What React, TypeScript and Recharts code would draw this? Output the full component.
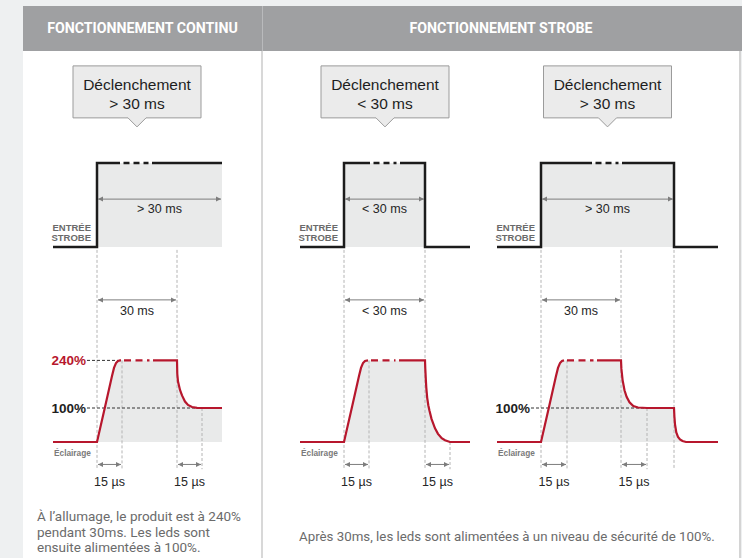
import React from "react";
import {
  ComposedChart,
  Line,
  Area,
  XAxis,
  YAxis,
  ReferenceLine,
  ReferenceDot,
} from "recharts";

// time is in schematic units: 30 ms = 80, 15 µs = 25, pulse starts at 0
// strobe input: 0 = low, 1 = high
const STROBE_CONTINU: [number, number][] = [[-44, 0], [0, 0], [0, 1], [125, 1]];
const STROBE_SHORT: [number, number][] = [[-44, 0], [0, 0], [0, 1], [81, 1], [81, 0], [126, 0]];
const STROBE_LONG: [number, number][] = [[-44, 0], [0, 0], [0, 1], [133, 1], [133, 0], [177, 0]];

// lighting level in %
const LIGHT_CONTINU: [number, number][] = [
  [-44, 0], [0, 0], [8, 103], [15, 194], [17, 218], [19, 232], [21, 238.5], [23, 240],
  [80, 240], [80.3, 200], [81, 178], [83, 153], [85, 137], [88, 119], [91, 109], [95, 103],
  [100, 100.5], [105, 100], [125, 100],
];
const LIGHT_SHORT: [number, number][] = [
  [-44, 0], [0, 0], [8, 103], [15, 194], [17, 218], [19, 232], [21, 238.5], [24, 240],
  [81, 240], [81.3, 215], [81.8, 185], [82.3, 160], [83.2, 130], [84.3, 108], [85.5, 92],
  [87.5, 68], [91, 40], [94, 24], [97.7, 11], [101, 5], [106, 0], [126, 0],
];
const LIGHT_LONG: [number, number][] = [
  [-44, 0], [0, 0], [8, 103], [15, 194], [17, 218], [19, 232], [21, 238.5], [23, 240],
  [80, 240], [80.4, 215], [81.6, 182], [83.5, 152], [85.6, 133], [88.5, 117], [92.3, 106],
  [97, 101.5], [106, 100], [133, 100], [133.4, 75], [134, 52], [135.3, 28], [137, 15],
  [139, 7.5], [141.5, 3], [145, 0], [177, 0],
];

const HEADERS = ["FONCTIONNEMENT CONTINU", "FONCTIONNEMENT STROBE"];
const CAPTION_CONTINU = [
  "À l’allumage, le produit est à 240%",
  "pendant 30ms. Les leds sont",
  "ensuite alimentées à 100%.",
];
const CAPTION_STROBE = "Après 30ms, les leds sont alimentées à un niveau de sécurité de 100%.";

const FONT = '"Liberation Sans", Arial, sans-serif';
const RED = "#b7172d";
const FILL = "#e9eaea";
const GUIDE = "#b4b4b4";
const ARROW = "#7d7d7d";

const X_MIN = -50;
const CHART_TOP = 56;
const CHART_H = 444;
// pixel of value 0 inside the chart and pixels per unit
const domainFor = (zeroPx: number, k: number): [number, number] => [
  -(CHART_H - zeroPx) / k,
  zeroPx / k,
];
const STROBE_DOMAIN = domainFor(191, 84);
const LIGHT_DOMAIN = domainFor(386, 0.34);

const CALLOUT_Y = 1.43;
const PULSE_ARROW_Y = 0.57;
const STROBE_LABEL_Y = 0.17;
const LIGHT_ARROW_Y = 418;
const GUIDE_TOP = 565;
const GUIDE_BOTTOM = -80;
const ECL_Y = -31.5;
const US_ARROW_Y = -66;

const toPts = (a: [number, number][]) => a.map(([t, v]) => ({ t, v }));

function withGap(a: [number, number][], from: number, to: number, level: number) {
  const out: { t: number; v: number | null }[] = [];
  let done = false;
  for (const [t, v] of a) {
    if (!done && t > from) {
      out.push({ t: from, v: level }, { t: (from + to) / 2, v: null }, { t: to, v: level });
      done = true;
    }
    if (t > from && t < to) continue;
    out.push({ t, v });
  }
  return out;
}

const arrowShape = (label: string, dy: number) => (p: any) => {
  const xa = Math.min(p.x1, p.x2) + 1;
  const xb = Math.max(p.x1, p.x2) - 1;
  const y = p.y1;
  return (
    <g>
      <line x1={xa} y1={y} x2={xb} y2={y} stroke={ARROW} strokeWidth={1} />
      <path d={`M${xa},${y} l5,-2.5 v5 z`} fill={ARROW} />
      <path d={`M${xb},${y} l-5,-2.5 v5 z`} fill={ARROW} />
      <text
        x={(xa + xb) / 2}
        y={y + dy}
        textAnchor="middle"
        dominantBaseline="central"
        fontFamily={FONT}
        fontSize={12.5}
        fill="#262626"
      >
        {label}
      </text>
    </g>
  );
};

const calloutShape = (lines: string[]) => (p: any) => {
  const { cx, cy } = p;
  const x0 = cx - 64;
  const x1 = cx + 64;
  const top = cy - 61;
  const bot = cy - 9;
  return (
    <g>
      <path
        d={`M${x0},${top} H${x1} V${bot} H${cx + 9} L${cx},${cy} L${cx - 9},${bot} H${x0} Z`}
        fill="#ebebeb"
        stroke="#9b9b9b"
        strokeWidth={1}
      />
      {lines.map((l, i) => (
        <text
          key={i}
          x={cx}
          y={cy - 42 + i * 18.5}
          textAnchor="middle"
          dominantBaseline="central"
          fontFamily={FONT}
          fontSize={15.5}
          fill="#1e1e1e"
        >
          {l}
        </text>
      ))}
    </g>
  );
};

const strobeLabelShape = (p: any) => (
  <text
    x={p.cx}
    y={p.cy}
    textAnchor="end"
    fontFamily={FONT}
    fontSize={9.5}
    fontWeight="bold"
    fill="#6a6a6a"
  >
    <tspan x={p.cx} dy={-1.5}>ENTRÉE</tspan>
    <tspan x={p.cx} dy={10}>STROBE</tspan>
  </text>
);

const eclShape = (p: any) => (
  <text
    x={p.cx}
    y={p.cy}
    dominantBaseline="central"
    fontFamily={FONT}
    fontSize={8.3}
    fontWeight="bold"
    fill="#7a7a7a"
  >
    Éclairage
  </text>
);

const levelShape = (label: string, color: string) => (p: any) => (
  <g>
    <line x1={p.x1} y1={p.y1} x2={p.x2} y2={p.y2} stroke="#333" strokeWidth={1} strokeDasharray="3 2" />
    <text
      x={Math.min(p.x1, p.x2) - 1}
      y={p.y1}
      textAnchor="end"
      dominantBaseline="central"
      fontFamily={FONT}
      fontSize={13.5}
      fontWeight="bold"
      fill={color}
    >
      {label}
    </text>
  </g>
);

type Panel = {
  left: number;
  xMax: number;
  strobe: [number, number][];
  strobeGap: [number, number];
  light: [number, number][];
  lightGap: [number, number];
  callout: number;
  calloutText: string[];
  pulse: [number, number, string];
  lightArrow: [number, number, string];
  usArrows: [number, number][];
  guides: [number, number][];
  levels: { level: number; to: number; label: string; color: string }[];
};

const PANELS: Panel[] = [
  {
    left: 47,
    xMax: 130,
    strobe: STROBE_CONTINU,
    strobeGap: [23, 55],
    light: LIGHT_CONTINU,
    lightGap: [24, 56],
    callout: 40,
    calloutText: ["Déclenchement", "> 30 ms"],
    pulse: [0, 125, "> 30 ms"],
    lightArrow: [0, 80, "30 ms"],
    usArrows: [[0, 25], [80, 105]],
    guides: [[0, GUIDE_TOP], [80, GUIDE_TOP], [25, 240], [105, 100]],
    levels: [
      { level: 240, to: 21, label: "240%", color: RED },
      { level: 100, to: 105, label: "100%", color: "#1e1e1e" },
    ],
  },
  {
    left: 294,
    xMax: 130,
    strobe: STROBE_SHORT,
    strobeGap: [26, 56],
    light: LIGHT_SHORT,
    lightGap: [24, 55],
    callout: 41,
    calloutText: ["Déclenchement", "< 30 ms"],
    pulse: [0, 81, "< 30 ms"],
    lightArrow: [0, 81, "< 30 ms"],
    usArrows: [[0, 25], [81, 106]],
    guides: [[0, GUIDE_TOP], [81, GUIDE_TOP], [25, 240], [106, 0]],
    levels: [],
  },
  {
    left: 491,
    xMax: 180,
    strobe: STROBE_LONG,
    strobeGap: [51, 81],
    light: LIGHT_LONG,
    lightGap: [23, 56],
    callout: 66.5,
    calloutText: ["Déclenchement", "> 30 ms"],
    pulse: [0, 133, "> 30 ms"],
    lightArrow: [0, 80, "30 ms"],
    usArrows: [[0, 26], [80, 106]],
    guides: [[0, GUIDE_TOP], [80, GUIDE_TOP], [133, GUIDE_TOP], [26, 240], [106, 100]],
    levels: [{ level: 100, to: 106, label: "100%", color: "#1e1e1e" }],
  },
];

const Diagram = ({ p }: { p: Panel }) => {
  const strobeSolid = withGap(p.strobe, p.strobeGap[0], p.strobeGap[1], 1);
  const strobeDash = [
    { t: p.strobeGap[0] + 3.5, v: 1 },
    { t: p.strobeGap[1] - 3.5, v: 1 },
  ];
  const lightSolid = withGap(p.light, p.lightGap[0], p.lightGap[1], 240);
  const lightDash = [
    { t: p.lightGap[0] + 3, v: 240 },
    { t: p.lightGap[1] - 3.5, v: 240 },
  ];
  return (
    <div style={{ position: "absolute", left: p.left, top: CHART_TOP }}>
      <ComposedChart
        width={p.xMax - X_MIN}
        height={CHART_H}
        margin={{ top: 0, right: 0, bottom: 0, left: 0 }}
      >
        <XAxis type="number" dataKey="t" domain={[X_MIN, p.xMax]} hide allowDataOverflow />
        <YAxis yAxisId="strobe" type="number" domain={STROBE_DOMAIN} hide allowDataOverflow />
        <YAxis yAxisId="light" type="number" domain={LIGHT_DOMAIN} hide allowDataOverflow />

        <Area
          yAxisId="strobe"
          data={toPts(p.strobe)}
          dataKey="v"
          type="linear"
          stroke="none"
          fill={FILL}
          fillOpacity={1}
          baseValue={0}
          isAnimationActive={false}
        />
        <Area
          yAxisId="light"
          data={toPts(p.light)}
          dataKey="v"
          type="linear"
          stroke="none"
          fill={FILL}
          fillOpacity={1}
          baseValue={0}
          isAnimationActive={false}
        />

        {p.guides.map(([t, top], i) => (
          <ReferenceLine
            key={`g${i}`}
            yAxisId="light"
            segment={[{ x: t, y: top }, { x: t, y: GUIDE_BOTTOM }]}
            stroke={GUIDE}
            strokeWidth={1}
            strokeDasharray="3 2"
          />
        ))}
        {p.levels.map((l, i) => (
          <ReferenceLine
            key={`l${i}`}
            yAxisId="light"
            segment={[{ x: -10, y: l.level }, { x: l.to, y: l.level }]}
            shape={levelShape(l.label, l.color)}
          />
        ))}

        <Line yAxisId="strobe" data={strobeSolid} dataKey="v" type="linear" stroke="#1c1c1c"
          strokeWidth={2.5} dot={false} activeDot={false} isAnimationActive={false} />
        <Line yAxisId="strobe" data={strobeDash} dataKey="v" type="linear" stroke="#1c1c1c"
          strokeWidth={2.5} strokeDasharray="6 4" dot={false} activeDot={false} isAnimationActive={false} />
        <Line yAxisId="light" data={lightSolid} dataKey="v" type="linear" stroke={RED}
          strokeWidth={2.2} dot={false} activeDot={false} isAnimationActive={false} />
        <Line yAxisId="light" data={lightDash} dataKey="v" type="linear" stroke={RED}
          strokeWidth={2.2} strokeDasharray="7 4.5" dot={false} activeDot={false} isAnimationActive={false} />

        <ReferenceLine
          yAxisId="strobe"
          segment={[{ x: p.pulse[0], y: PULSE_ARROW_Y }, { x: p.pulse[1], y: PULSE_ARROW_Y }]}
          shape={arrowShape(p.pulse[2], 9.5)}
        />
        <ReferenceLine
          yAxisId="light"
          segment={[{ x: p.lightArrow[0], y: LIGHT_ARROW_Y }, { x: p.lightArrow[1], y: LIGHT_ARROW_Y }]}
          shape={arrowShape(p.lightArrow[2], 11)}
        />
        {p.usArrows.map(([a, b], i) => (
          <ReferenceLine
            key={`u${i}`}
            yAxisId="light"
            segment={[{ x: a, y: US_ARROW_Y }, { x: b, y: US_ARROW_Y }]}
            shape={arrowShape("15 µs", 17.5)}
          />
        ))}

        <ReferenceDot yAxisId="strobe" x={-6} y={STROBE_LABEL_Y} r={0} shape={strobeLabelShape} />
        <ReferenceDot yAxisId="light" x={-43} y={ECL_Y} r={0} shape={eclShape} />
        <ReferenceDot yAxisId="strobe" x={p.callout} y={CALLOUT_Y} r={0} shape={calloutShape(p.calloutText)} />
      </ComposedChart>
    </div>
  );
};

export default function App() {
  const headerText: React.CSSProperties = {
    position: "absolute",
    top: 6,
    height: 45,
    lineHeight: "45px",
    textAlign: "center",
    color: "#ffffff",
    fontFamily: "Roboto, sans-serif",
    fontWeight: 700,
    fontSize: 14.2,
  };
  return (
    <div
      style={{
        position: "absolute",
        left: 0,
        top: 0,
        width: 742,
        height: 558,
        background: "#eef0f1",
        overflow: "hidden",
      }}
    >
      <div style={{ position: "absolute", left: 23, top: 51, width: 716, height: 507, background: "#fff" }} />
      <div style={{ position: "absolute", left: 23, top: 6, width: 719, height: 45, background: "#9fa0a2" }} />
      <div style={{ position: "absolute", left: 262, top: 6, width: 1, height: 45, background: "#b9babc" }} />
      <div style={{ position: "absolute", left: 261, top: 51, width: 2, height: 507, background: "#d8d8d8" }} />
      <div style={{ position: "absolute", left: 739, top: 51, width: 2, height: 507, background: "#d4d4d4" }} />
      <div style={{ ...headerText, left: 23, width: 239 }}>{HEADERS[0]}</div>
      <div style={{ ...headerText, left: 263, width: 476 }}>{HEADERS[1]}</div>

      {PANELS.map((p, i) => (
        <Diagram key={i} p={p} />
      ))}

      <div
        style={{
          position: "absolute",
          left: 37,
          top: 509,
          fontFamily: "Roboto, sans-serif",
          fontSize: 13.5,
          lineHeight: "15.7px",
          color: "#6b6b6b",
          whiteSpace: "nowrap",
        }}
      >
        {CAPTION_CONTINU.map((l, i) => (
          <div key={i}>{l}</div>
        ))}
      </div>
      <div
        style={{
          position: "absolute",
          left: 299,
          top: 529,
          fontFamily: "Roboto, sans-serif",
          fontSize: 13.3,
          lineHeight: "16px",
          color: "#6b6b6b",
          whiteSpace: "nowrap",
        }}
      >
        {CAPTION_STROBE}
      </div>
    </div>
  );
}
